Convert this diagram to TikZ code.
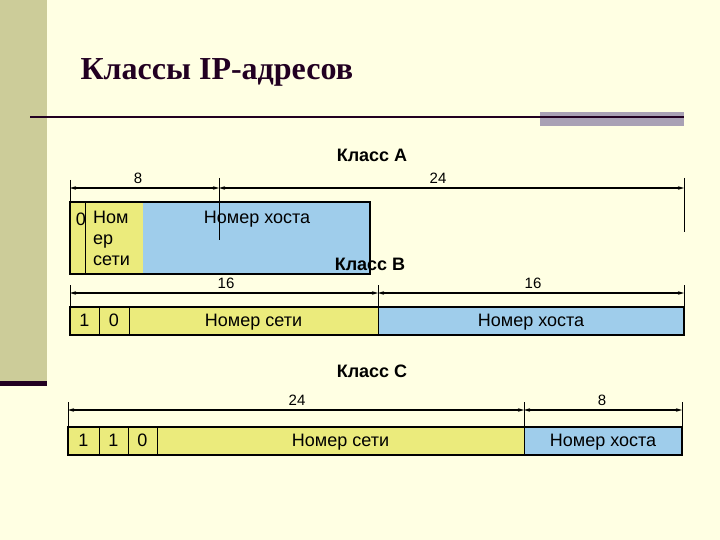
\documentclass[tikz,border=0pt]{standalone}
\usepackage{fontspec}
\setmainfont{Liberation Sans}
\newfontfamily\titlefont{Liberation Serif}
\usetikzlibrary{arrows.meta}
\definecolor{bgcream}{HTML}{FFFFE3}
\definecolor{stripolive}{HTML}{CCCC99}
\definecolor{titleink}{HTML}{220022}
\definecolor{rulegray}{HTML}{A9A1B5}
\definecolor{netyellow}{HTML}{EBEB7C}
\definecolor{hostblue}{HTML}{9FCDEB}

\begin{document}
\begin{tikzpicture}[x=1pt, y=-1pt,
    cell/.style={draw, line width=0.7pt, inner sep=0pt, outer sep=0pt, anchor=north west,
      minimum height=28pt, text height=12pt, text depth=2pt, font=\fontsize{18}{21}\selectfont},
    net/.style={cell, fill=netyellow},
    host/.style={cell, fill=hostblue},
    frame/.style={draw, line width=1.8pt},
    dim/.style={{Stealth[length=6pt,width=3.5pt]}-{Stealth[length=6pt,width=3.5pt]}, line width=1.3pt},
    tick/.style={line width=0.6pt},
    bits/.style={font=\fontsize{15}{15}\selectfont, above=1pt},
    classname/.style={font=\bfseries\fontsize{18}{18}\selectfont}]

  % slide background
  \fill[bgcream] (0,0) rectangle (720,540);
  \useasboundingbox (0,0) rectangle (720,540);
  \fill[stripolive] (0,0) rectangle (47,381);
  \fill[titleink] (0,381) rectangle (47,386);
  \node[anchor=base west, text=titleink, font=\titlefont\bfseries\fontsize{32}{32}\selectfont]
    (title) at (77,80) {Классы IP-адресов};
  \fill[rulegray] (540,112) rectangle (684,126);
  \draw[line width=2pt, titleink] (30,117) -- (684,117);

  % class A
  \node[classname] (clA) at (372,155) {Класс A};
  \coordinate (adim0) at (70,188);
  \coordinate (adim1) at (219,188);
  \coordinate (adim2) at (684,188);
  \node[bits] (a8) at (138,188) {8};
  \node[bits] (a24) at (438,188) {24};
  \draw[dim] (adim0) -- (adim1);
  \draw[dim] (adim1) -- (adim2);
  \node[bits] (b16l) at (226,293) {16};
  \node[net, minimum width=15pt, minimum height=72pt] (a0) at (70,202) {};
  \node[net, draw=none, minimum width=58pt, minimum height=72pt] (anet) at (a0.north east) {};
  \node[host, draw=none, minimum width=227pt, minimum height=72pt] (ahost) at (anet.north east) {};
  \draw[frame] (a0.north west) rectangle (ahost.south east);
  \draw[tick] (a0.north east) -- (a0.south east);
  \node[font=\fontsize{18}{21}\selectfont] (a0bit) at (81,219) {0};
  \node[font=\fontsize{18}{21}\selectfont, align=left, anchor=north west, inner sep=0pt]
    (anettext) at (93,211) {Ном\\ер\\сети};
  \node[font=\fontsize{18}{21}\selectfont] (ahosttext) at (257,219) {Номер хоста};
  \coordinate (atick0) at (70,180);
  \coordinate (atick1) at (219,178);
  \coordinate (atick1e) at (219,240);
  \coordinate (atick2) at (684,178);
  \coordinate (atick2e) at (684,232);
  \draw[tick] (atick0) -- (a0.north west);
  \draw[tick] (atick1) -- (atick1e);
  \draw[tick] (atick2) -- (atick2e);

  % class B
  \node[classname] (clB) at (370,264) {Класс B};
  \node[net, minimum width=29pt] (b1) at (70,307) {1};
  \node[net, minimum width=30pt] (b2) at (b1.north east) {0};
  \node[net, minimum width=249pt] (bnet) at (b2.north east) {Номер сети};
  \node[host, minimum width=306pt] (bhost) at (bnet.north east) {Номер хоста};
  \draw[frame] (b1.north west) rectangle (bhost.south east);
  \coordinate (bdim0) at (70,293);
  \coordinate (bdim1) at (378,293);
  \coordinate (bdim2) at (684,293);
  \node[bits] (b16r) at (533,293) {16};
  \draw[dim] (bdim0) -- (bdim1);
  \draw[dim] (bdim1) -- (bdim2);
  \coordinate (btick0) at (70,285);
  \coordinate (btick1) at (378,285);
  \coordinate (btick2) at (684,285);
  \draw[tick] (btick0) -- (b1.north west);
  \draw[tick] (btick1) -- (bhost.north west);
  \draw[tick] (btick2) -- (bhost.north east);

  % class C
  \node[classname] (clC) at (372,371) {Класс C};
  \node[net, minimum width=31pt] (c1) at (68,427) {1};
  \node[net, minimum width=29pt] (c2) at (c1.north east) {1};
  \node[net, minimum width=29pt] (c3) at (c2.north east) {0};
  \node[net, minimum width=367pt] (cnet) at (c3.north east) {Номер сети};
  \node[host, minimum width=158pt] (chost) at (cnet.north east) {Номер хоста};
  \draw[frame] (c1.north west) rectangle (chost.south east);
  \coordinate (cdim0) at (68,410);
  \coordinate (cdim1) at (524,410);
  \coordinate (cdim2) at (682,410);
  \node[bits] (c24) at (297,410) {24};
  \node[bits] (c8) at (602,410) {8};
  \draw[dim] (cdim0) -- (cdim1);
  \draw[dim] (cdim1) -- (cdim2);
  \coordinate (ctick0) at (68,402);
  \coordinate (ctick1) at (524,402);
  \coordinate (ctick2) at (682,402);
  \draw[tick] (ctick0) -- (c1.north west);
  \draw[tick] (ctick1) -- (chost.north west);
  \draw[tick] (ctick2) -- (chost.north east);
\end{tikzpicture}
\end{document}
